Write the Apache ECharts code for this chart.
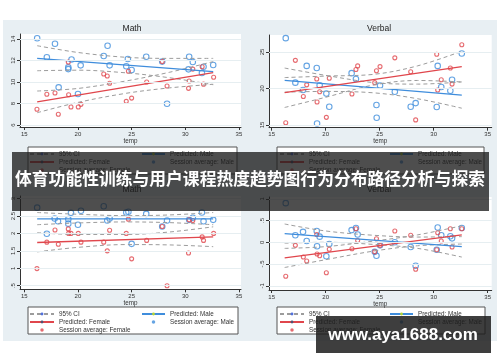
<!DOCTYPE html>
<html><head><meta charset="utf-8">
<script src="https://cdn.jsdelivr.net/npm/echarts@6.0.0/dist/echarts.min.js"></script>
<style>
html,body{margin:0;padding:0;background:#fff;}
#wrap{position:relative;width:500px;height:362px;}
#bg{position:absolute;left:3px;top:20px;width:494px;height:321px;background:#e8eff3;}
#chart{position:absolute;left:0;top:0;width:500px;height:362px;}
</style></head>
<body><div id="wrap"><div id="bg"></div><div id="chart"></div></div>
<script>
// ---------- data ----------
const bannerText = '体育功能性训练与用户课程热度趋势图行为分布路径分析与探索';
const watermarkText = 'www.aya1688.com';
const panelTitles = ['Math', 'Verbal', 'Math', 'Verbal'];
const xAxisTitle = 'temp';
const legendLeftItems = ['95% CI', 'Predicted: Female', 'Session average: Female'];
const legendRightItems = ['Predicted: Male', 'Session average: Male'];

const xTicks = [15, 20, 25, 30, 35];
const mathTicks = [6, 8, 10, 12, 14];
const verbalTicks = [15, 20, 25];
const math2Ticks = [0.5, 1, 1.5, 2, 2.5, 3];
const verbal2Ticks = [-1, -0.5, 0, 0.5, 1];

const predTemps = [16.2, 32.6];
const ciTemps = [16.2, 20, 24.5, 28.5, 32.6];

const mathMale = [[16.2,14.07],[17.86,13.56],[17.1,12.3],[22.76,13.38],[22.4,12.42],[19.4,12.1],[19.1,11.36],[19.1,11.2],[20.25,11.55],[18.2,9.5],[20.0,8.88],[22.95,11.55],[24.65,12.14],[24.5,11.46],[25.0,11.12],[26.36,12.35],[27.85,11.9],[28.3,7.98],[30.36,12.35],[30.7,11.86],[30.3,11.18],[31.7,11.42],[31.55,10.84],[32.6,11.58]];
const mathFemale = [[16.18,7.46],[17.1,8.86],[17.86,8.98],[18.17,7.0],[19.1,11.86],[19.13,8.82],[19.35,7.67],[20.03,7.67],[20.28,7.92],[22.4,10.74],[22.73,10.56],[22.95,9.88],[24.5,8.2],[25.0,8.5],[24.7,11.0],[26.4,10.0],[27.85,11.9],[28.3,9.63],[30.3,9.41],[30.36,10.1],[30.7,11.2],[31.57,11.42],[31.7,9.8],[32.64,10.44]];
const mathPredMale = [12.2, 10.96];
const mathPredFemale = [8.14, 10.87];
const mathCiMaleHi = [13.38, 12.75, 12.3, 12.2, 12.2];
const mathCiMaleLo = [11.05, 11.1, 10.85, 10.4, 9.75];
const mathCiFemaleHi = [9.16, 9.4, 10.1, 10.9, 11.9];
const mathCiFemaleLo = [7.14, 8.1, 8.95, 9.45, 9.79];

const verbalMale = [[16.3,26.9],[17.19,20.8],[17.9,19.8],[18.24,23.1],[19.17,22.8],[19.44,20.44],[19.2,15.2],[20.06,19.3],[20.33,17.5],[22.4,22.1],[22.8,21.3],[24.7,17.74],[24.72,16.0],[25.03,20.4],[26.4,19.56],[27.87,17.5],[28.33,18.0],[30.28,17.47],[30.37,23.1],[30.7,20.2],[31.7,21.2],[31.54,19.7],[32.6,24.8]];
const verbalFemale = [[16.3,15.3],[17.19,23.86],[18.24,20.5],[17.93,18.9],[19.17,21.3],[19.2,18.15],[19.44,19.56],[20.33,21.4],[20.06,16.05],[22.43,19.25],[22.8,22.6],[22.96,23.1],[24.7,22.44],[24.54,20.8],[25.03,23.0],[26.4,24.2],[27.87,22.3],[28.33,15.7],[30.28,24.7],[30.37,19.8],[30.7,21.2],[31.54,22.8],[31.7,20.6],[32.6,26.0]];
const verbalPredMale = [21.1, 19.1];
const verbalPredFemale = [19.43, 22.99];
const verbalCiMaleHi = [22.8, 21.8, 20.8, 20.6, 20.9];
const verbalCiMaleLo = [19.5, 19.6, 19.4, 18.6, 17.3];
const verbalCiFemaleHi = [21.5, 21.7, 21.95, 23.1, 25.1];
const verbalCiFemaleLo = [17.4, 18.8, 20.5, 21.1, 20.9];

const math2Male = [[16.2,2.74],[22.4,2.78],[17.83,2.43],[18.14,2.35],[19.35,2.59],[20.28,2.65],[19.1,2.41],[19.1,2.28],[20.0,2.25],[17.1,1.99],[24.5,2.6],[24.7,2.62],[22.95,2.43],[22.73,2.37],[26.36,2.56],[27.85,2.2],[28.3,2.37],[25.0,1.7],[30.36,2.39],[30.7,2.45],[31.55,2.6],[31.7,2.35],[32.6,2.39]];
const math2Female = [[16.18,0.99],[17.1,1.75],[17.86,2.1],[18.17,1.69],[19.1,2.13],[19.13,2.0],[19.35,2.0],[20.03,2.0],[20.28,1.75],[22.4,1.75],[22.73,1.5],[22.95,2.09],[24.5,2.0],[24.7,2.41],[25.0,1.27],[26.4,1.8],[27.85,2.2],[28.3,0.5],[30.3,1.44],[30.36,2.39],[30.7,2.37],[31.57,1.9],[31.7,1.8],[32.64,2.0]];
const math2PredMale = [2.42, 2.42];
const math2PredFemale = [1.74, 1.9];
const math2CiMaleHi = [2.6, 2.55, 2.51, 2.53, 2.6];
const math2CiMaleLo = [2.25, 2.3, 2.33, 2.31, 2.25];
const math2CiFemaleHi = [2.02, 1.97, 1.97, 2.04, 2.19];
const math2CiFemaleLo = [1.47, 1.6, 1.68, 1.67, 1.62];

const verbal2Male = [[16.3,0.9],[17.19,0.16],[17.9,0.24],[18.24,0.03],[19.17,0.26],[19.44,0.13],[19.2,-0.09],[20.06,-0.32],[20.33,-0.04],[22.4,0.28],[22.96,0.18],[22.8,0.33],[24.7,-0.31],[24.54,-0.22],[25.03,-0.07],[26.4,0.0],[27.87,-0.11],[28.33,-0.54],[30.28,-0.17],[30.37,0.34],[30.7,0.16],[31.7,0.09],[31.54,0.14],[32.6,0.33]];
const verbal2Female = [[16.3,-0.78],[17.19,-0.07],[17.93,-0.34],[18.24,-0.43],[19.17,0.18],[19.2,-0.27],[19.44,-0.31],[20.33,-0.16],[20.06,-0.7],[22.43,-0.15],[22.8,0.31],[22.96,0.04],[24.7,0.08],[24.54,-0.22],[25.03,-0.07],[26.4,0.26],[27.87,0.16],[28.33,-0.62],[30.28,-0.17],[30.37,0.22],[30.7,0.03],[31.54,0.31],[31.7,-0.11],[32.6,0.31]];
const verbal2PredMale = [0.2, -0.1];
const verbal2PredFemale = [-0.36, 0.17];
const verbal2CiMaleHi = [0.42, 0.26, 0.16, 0.12, 0.13];
const verbal2CiMaleLo = [-0.02, 0.0, -0.05, -0.14, -0.34];
const verbal2CiFemaleHi = [-0.14, -0.1, 0.03, 0.17, 0.38];
const verbal2CiFemaleLo = [-0.58, -0.4, -0.2, -0.08, -0.04];

// ---------- layout / style ----------
const BLUE = '#3f8ddc', RED = '#e0464c', GRAY = '#9c9c9c', AXIS = '#333', FONT = 'Liberation Sans, Arial, sans-serif';
const panels = [
  {data:[mathMale, mathFemale, mathPredMale, mathPredFemale, mathCiMaleHi, mathCiMaleLo, mathCiFemaleHi, mathCiFemaleLo], yTicks: mathTicks,
   grid:{left:20, top:34, width:221, height:93}, x:[14.6, 35.19], y:[5.81, 14.47], titleXY:[132, 29], legTop:147, legX:[28, 237], col1:29, col2:141},
  {data:[verbalMale, verbalFemale, verbalPredMale, verbalPredFemale, verbalCiMaleHi, verbalCiMaleLo, verbalCiFemaleHi, verbalCiFemaleLo], yTicks: verbalTicks,
   grid:{left:269, top:35, width:222.7, height:92.7}, x:[14.75, 35.37], y:[14.63, 27.33], titleXY:[379, 29], legTop:147, legX:[277, 484], col1:279, col2:389},
  {data:[math2Male, math2Female, math2PredMale, math2PredFemale, math2CiMaleHi, math2CiMaleLo, math2CiFemaleHi, math2CiFemaleLo], yTicks: math2Ticks,
   grid:{left:20, top:196, width:221, height:93.3}, x:[14.6, 35.19], y:[0.396, 3.074], titleXY:[132, 190], legTop:307, legX:[28, 238], col1:29, col2:141},
  {data:[verbal2Male, verbal2Female, verbal2PredMale, verbal2PredFemale, verbal2CiMaleHi, verbal2CiMaleLo, verbal2CiFemaleHi, verbal2CiFemaleLo], yTicks: verbal2Ticks,
   grid:{left:269, top:197, width:222.7, height:93}, x:[14.75, 35.37], y:[-1.097, 1.041], titleXY:[379, 190], legTop:307, legX:[277, 485], col1:279, col2:389}
];

const fmt = v => String(v).replace(/^(-?)0\./, '$1.');
const zip = (xs, ys) => xs.map((x, i) => [x, ys[i]]);

const grids = [], xAxes = [], yAxes = [], series = [], legends = [], graphics = [];
panels.forEach((p, i) => {
  grids.push(Object.assign({show:true, backgroundColor:'#fff', borderWidth:0}, p.grid));
  xAxes.push({gridIndex:i, type:'value', min:p.x[0], max:p.x[1],
    axisLine:{show:true, onZero:false, lineStyle:{color:AXIS, width:1}},
    axisTick:{show:true, customValues:xTicks, length:3, lineStyle:{color:AXIS}},
    axisLabel:{customValues:xTicks, fontSize:6, color:AXIS, margin:4, fontFamily:FONT},
    splitLine:{show:false},
    name:xAxisTitle, nameLocation:'middle', nameGap:11, nameTextStyle:{fontSize:6.3, color:AXIS, fontFamily:FONT}});
  yAxes.push({gridIndex:i, type:'value', min:p.y[0], max:p.y[1],
    axisLine:{show:true, onZero:false, lineStyle:{color:AXIS, width:1}},
    axisTick:{show:true, customValues:p.yTicks, length:3, lineStyle:{color:AXIS}},
    axisLabel:{customValues:p.yTicks, fontSize:6, color:AXIS, margin:4, rotate:90, formatter:fmt, fontFamily:FONT},
    splitLine:{show:false}});
  const [male, female, pm, pf, cmh, cml, cfh, cfl] = p.data;
  const ci = (arr, withGrid) => {
    const s = {type:'line', name:'95% CI', xAxisIndex:i, yAxisIndex:i, data:zip(ciTemps, arr), symbol:'none', smooth:0.35,
      lineStyle:{color:GRAY, width:1, type:[4,3]}, silent:true};
    if (withGrid) s.markLine = {silent:true, symbol:'none', label:{show:false}, animation:false,
      lineStyle:{color:'#e6eef1', width:1, type:'solid'}, data:p.yTicks.map(v => ({yAxis:v}))};
    return s;
  };
  series.push(ci(cmh, true), ci(cml), ci(cfh), ci(cfl));
  series.push({type:'line', name:'Predicted: Male', xAxisIndex:i, yAxisIndex:i, data:zip(predTemps, pm), symbol:'none', lineStyle:{color:BLUE, width:1.3}, silent:true});
  series.push({type:'line', name:'Predicted: Female', xAxisIndex:i, yAxisIndex:i, data:zip(predTemps, pf), symbol:'none', lineStyle:{color:RED, width:1.3}, silent:true});
  series.push({type:'scatter', name:'Session average: Male', xAxisIndex:i, yAxisIndex:i, data:male, symbol:'circle', symbolSize:5.5,
    itemStyle:{color:'rgba(255,255,255,0)', borderColor:BLUE, borderWidth:1.1}, silent:true});
  series.push({type:'scatter', name:'Session average: Female', xAxisIndex:i, yAxisIndex:i, data:female, symbol:'circle', symbolSize:4,
    itemStyle:{color:'rgba(255,255,255,0)', borderColor:RED, borderWidth:1.1}, silent:true});

  const legItem = n => n.startsWith('Session') ? {name:n, icon:'circle', itemStyle:{color: n.endsWith('Male') ? BLUE : RED, borderWidth:0}} : {name:n};
  const legBase = {orient:'vertical', itemGap:0, itemWidth:24, itemHeight:3.5, padding:0, selectedMode:false, top:p.legTop + 3,
    textStyle:{fontSize:6.3, color:AXIS, lineHeight:8, fontFamily:FONT}};
  legends.push(Object.assign({}, legBase, {left:p.col1, data:legendLeftItems.map(legItem)}));
  legends.push(Object.assign({}, legBase, {left:p.col2, itemWidth:23, data:legendRightItems.map(legItem)}));
  graphics.push({type:'rect', z:-1, shape:{x:p.legX[0], y:p.legTop, width:p.legX[1]-p.legX[0], height:27},
    style:{fill:'#fff', stroke:'#555', lineWidth:1}, silent:true});
  graphics.push({type:'text', x:p.titleXY[0], y:p.titleXY[1], style:{text:panelTitles[i], fill:'#222', font:'8.5px ' + FONT, textAlign:'center', textVerticalAlign:'middle'}, silent:true});
});

graphics.push({type:'rect', z:100, shape:{x:12, y:152, width:477, height:59}, style:{fill:'rgba(28,28,28,0.78)'}, silent:true});
graphics.push({type:'text', z:101, x:250, y:178.5, style:{text:bannerText, fill:'#fff', font:'bold 16.8px "Noto Sans CJK SC", sans-serif', textAlign:'center', textVerticalAlign:'middle'}, silent:true});
graphics.push({type:'rect', z:100, shape:{x:316, y:316, width:175, height:37}, style:{fill:'rgba(28,28,28,0.85)'}, silent:true});
graphics.push({type:'text', z:101, x:403, y:335.5, style:{text:watermarkText, fill:'#fff', font:'bold 17px "Liberation Sans", Arial, sans-serif', textAlign:'center', textVerticalAlign:'middle'}, silent:true});

const chart = echarts.init(document.getElementById('chart'), null, {renderer:'canvas'});
chart.setOption({
  backgroundColor:'transparent', animation:false,
  grid:grids, xAxis:xAxes, yAxis:yAxes, series:series, legend:legends, graphic:graphics, tooltip:{show:false}
});
</script></body></html>
